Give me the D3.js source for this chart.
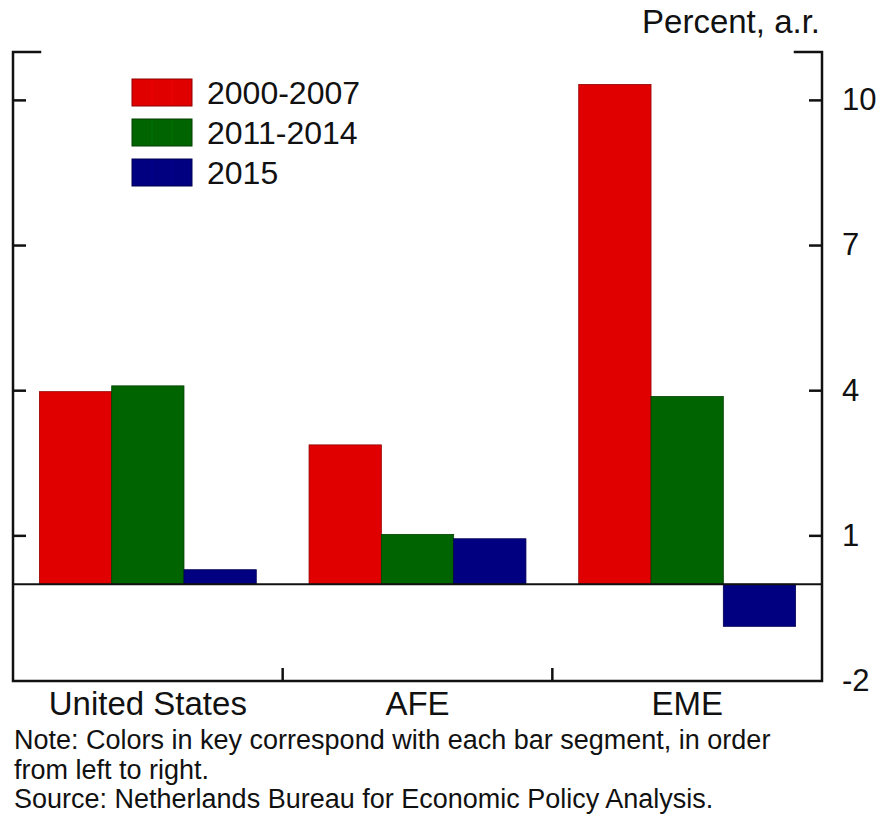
<!DOCTYPE html>
<html>
<head>
<meta charset="utf-8">
<script src="https://cdn.jsdelivr.net/npm/d3@7"></script>
<style>
  html, body { margin: 0; padding: 0; background: #fff; }
  svg { display: block; font-family: "Liberation Sans", Arial, sans-serif; }
</style>
</head>
<body>
<svg id="chart" width="884" height="816"></svg>
<script>
const categories = ["United States", "AFE", "EME"];
const seriesNames = ["2000-2007", "2011-2014", "2015"];
const values2000_2007 = [3.98, 2.88, 10.33];
const values2011_2014 = [4.10, 1.03, 3.88];
const values2015 = [0.30, 0.94, -0.87];
const seriesColors = ["#e00000", "#006400", "#000080"];
const yTicks = [-2, 1, 4, 7, 10];
const yDomain = [-2, 11];
const unitLabel = "Percent, a.r.";
const noteLines = [
  "Note: Colors in key correspond with each bar segment, in order",
  "from left to right.",
  "Source: Netherlands Bureau for Economic Policy Analysis."
];

(function () {
const seriesValues = [values2000_2007, values2011_2014, values2015];

const svg = d3.select("#chart");
const pL = 13, pR = 822, pT = 52, pB = 681;

const x = d3.scaleBand().domain(categories).range([pL, pR]).paddingInner(0).paddingOuter(0);
const xInner = d3.scaleBand().domain(seriesNames).range([0, x.bandwidth()]).paddingInner(0).paddingOuter(0.365);
const y = d3.scaleLinear().domain(yDomain).range([pB, pT]);

// Bars
const data = [];
categories.forEach((c, i) => {
  seriesNames.forEach((s, j) => data.push({ c, s, j, v: seriesValues[j][i] }));
});
svg.append("g").selectAll("rect").data(data).join("rect")
  .attr("x", d => x(d.c) + xInner(d.s))
  .attr("width", xInner.bandwidth())
  .attr("y", d => y(Math.max(0, d.v)))
  .attr("height", d => Math.abs(y(d.v) - y(0)))
  .attr("fill", d => seriesColors[d.j])
  .attr("stroke", d => d3.color(seriesColors[d.j]).darker(1.2))
  .attr("stroke-width", 0.8);

// Zero line
svg.append("line")
  .attr("x1", pL).attr("x2", pR)
  .attr("y1", y(0)).attr("y2", y(0))
  .attr("stroke", "#111").attr("stroke-width", 2);

// Frame: left, right, bottom lines
const frame = svg.append("g").attr("stroke", "#111").attr("stroke-width", 2.5).attr("fill", "none");
frame.append("path").attr("d", `M${pL + 27},${pT} H${pL} V${pB} H${pR} V${pT} H${pR - 27}`)
  .attr("stroke-linejoin", "miter").attr("stroke-linecap", "square");

// Y ticks (both sides, inward)
const innerTicks = yTicks.filter(t => t > yDomain[0]);
frame.selectAll("line.lt").data(innerTicks).join("line").attr("class", "lt")
  .attr("x1", pL).attr("x2", pL + 13)
  .attr("y1", d => y(d)).attr("y2", d => y(d));
frame.selectAll("line.rt").data(innerTicks).join("line").attr("class", "rt")
  .attr("x1", pR).attr("x2", pR - 13)
  .attr("y1", d => y(d)).attr("y2", d => y(d));

// Category boundary ticks on bottom axis
const boundaries = categories.slice(1).map(c => x(c));
frame.selectAll("line.bt").data(boundaries).join("line").attr("class", "bt")
  .attr("x1", d => d).attr("x2", d => d)
  .attr("y1", pB).attr("y2", pB - 13);

// Right axis tick labels via d3 axis
const yAxis = d3.axisRight(y).tickValues(yTicks).tickFormat(d => String(d)).tickSize(0).tickPadding(0);
const gy = svg.append("g").attr("transform", `translate(${pR + 20},0)`).call(yAxis);
gy.select(".domain").remove();
gy.selectAll("text").attr("font-size", 31).attr("fill", "#111")
  .attr("font-family", "'Liberation Sans', Arial, sans-serif")
  .attr("dy", "0.3em");

// Category labels via d3 axis
const xAxis = d3.axisBottom(x).tickSize(0).tickPadding(0);
const gx = svg.append("g").attr("transform", `translate(0,${pB})`).call(xAxis);
gx.select(".domain").remove();
gx.selectAll("text").attr("font-size", 33).attr("fill", "#111")
  .attr("font-family", "'Liberation Sans', Arial, sans-serif")
  .attr("dy", null).attr("y", 34);

// Unit label
svg.append("text").attr("x", 820).attr("y", 33).attr("text-anchor", "end")
  .attr("font-size", 33).attr("fill", "#111").text(unitLabel);

// Legend
const legend = svg.append("g").attr("transform", "translate(132,79)");
const rows = legend.selectAll("g").data(seriesNames).join("g")
  .attr("transform", (d, i) => `translate(0,${i * 40})`);
rows.append("rect").attr("width", 60).attr("height", 27)
  .attr("fill", (d, i) => seriesColors[i])
  .attr("stroke", (d, i) => d3.color(seriesColors[i]).darker(1.2)).attr("stroke-width", 1);
rows.each(function (d, i) {
  const g = d3.select(this);
  [20, 40].forEach(px => g.append("line").attr("x1", px).attr("x2", px).attr("y1", 1).attr("y2", 26)
    .attr("stroke", d3.color(seriesColors[i]).brighter(0.6)).attr("stroke-width", 1).attr("opacity", 0.6));
});
rows.append("text").attr("x", 75).attr("y", 13.5).attr("dy", "0.36em")
  .attr("font-size", 32).attr("fill", "#111").text(d => d);

// Notes
svg.append("g").selectAll("text").data(noteLines).join("text")
  .attr("x", 14).attr("y", (d, i) => 749 + i * 29.5)
  .attr("font-size", 27).attr("fill", "#111").text(d => d);
})();
</script>
</body>
</html>
